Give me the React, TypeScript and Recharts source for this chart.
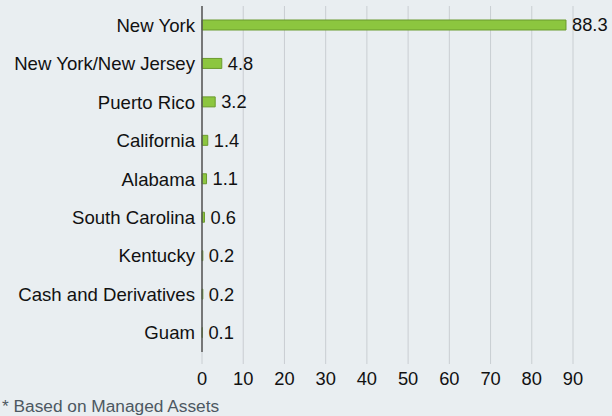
import { BarChart, Bar, XAxis, YAxis, CartesianGrid, LabelList } from "recharts";

const states = [
  "New York",
  "New York/New Jersey",
  "Puerto Rico",
  "California",
  "Alabama",
  "South Carolina",
  "Kentucky",
  "Cash and Derivatives",
  "Guam",
];
const shares = [88.3, 4.8, 3.2, 1.4, 1.1, 0.6, 0.2, 0.2, 0.1];
const xTicks = [0, 10, 20, 30, 40, 50, 60, 70, 80, 90];

const data = states.map((name, i) => ({ name, value: shares[i] }));

const FONT = "'Liberation Sans', Arial, sans-serif";

export default function App() {
  return (
    <div
      style={{
        position: "absolute",
        left: 0,
        top: 0,
        width: 612,
        height: 416,
        background: "#e9eef1",
        fontFamily: FONT,
        overflow: "hidden",
      }}
    >
      <BarChart
        width={612}
        height={392}
        data={data}
        layout="vertical"
        margin={{ top: 6, right: 39, bottom: 0, left: 0 }}
        barCategoryGap={0}
      >
        <CartesianGrid horizontal={false} vertical stroke="#c9ced2" strokeWidth={1} />
        <XAxis
          type="number"
          domain={[0, 90]}
          ticks={xTicks}
          axisLine={false}
          tickSize={12}
          tickLine={{ stroke: "#c9ced2" }}
          tickMargin={8}
          height={40}
          tick={{ fill: "#111", fontSize: 18.3, fontFamily: FONT }}
        />
        <YAxis
          type="category"
          dataKey="name"
          width={202}
          tickSize={0}
          tickMargin={7}
          axisLine={{ stroke: "#555", strokeWidth: 1.5 }}
          tick={{ fill: "#111", fontSize: 18.6, fontFamily: FONT }}
          interval={0}
        />
        <Bar
          dataKey="value"
          fill="#8cc63f"
          stroke="#6b9b2e"
          strokeWidth={1}
          barSize={10}
          isAnimationActive={false}
        >
          <LabelList
            dataKey="value"
            position="right"
            offset={6}
            fill="#111"
            fontSize={18.3}
            fontFamily={FONT}
            formatter={(v: number) => v.toFixed(1)}
          />
        </Bar>
      </BarChart>
      <div
        style={{
          position: "absolute",
          left: 2,
          top: 395,
          fontSize: 17.3,
          color: "#4d5862",
          lineHeight: "22px",
        }}
      >
        * Based on Managed Assets
      </div>
    </div>
  );
}
